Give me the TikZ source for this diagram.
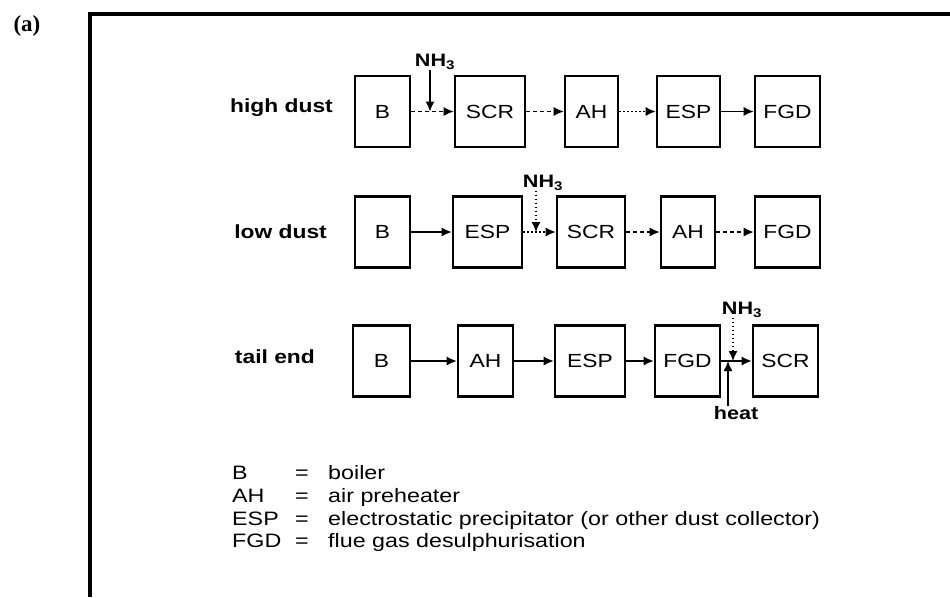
\documentclass[tikz,border=0pt]{standalone}
\usepackage{fontspec}
\setmainfont[FakeStretch=1.2]{Liberation Sans}
\newfontfamily\tagfont{Liberation Serif}
\usetikzlibrary{arrows.meta}
\begin{document}
\begin{tikzpicture}[x=1pt,y=-1pt,
  unit/.style={draw,line width=2.6pt,inner sep=0pt,minimum height=71pt,font=\fontsize{19}{22}\selectfont},
  rowlabel/.style={anchor=east,inner sep=0pt,font=\bfseries\fontsize{19}{22}\selectfont},
  gaslabel/.style={inner sep=0pt,font=\bfseries\fontsize{18}{22}\selectfont},
  legend/.style={anchor=base west,inner sep=0pt,font=\fontsize{19.4}{22}\selectfont},
  eqsign/.style={anchor=base,inner sep=0pt,font=\fontsize{19.4}{22}\selectfont},
  flow/.style={line width=1.4pt,-{Latex[length=10pt,width=9pt]}},
  dsh/.style={dash pattern=on 4pt off 3pt},
  dtt/.style={dash pattern=on 1.5pt off 2.5pt}]
\useasboundingbox (0,0) rectangle (950,597);
% frame
\draw[line width=3.2pt] (90,597) -- (90,14) -- (950,14);
\node[inner sep=0pt,font=\tagfont\bfseries\fontsize{23}{26}\selectfont] (tag) at (27,26) {(a)};
% row 1: high dust
\node[rowlabel] (l1) at (333,108) {high dust};
\node[unit,minimum width=55pt] (b1) at (382.5,111.5) {B};
\node[unit,minimum width=70pt] (scr1) at (490,111.5) {SCR};
\node[unit,minimum width=53pt] (ah1) at (591.5,111.5) {AH};
\node[unit,minimum width=63pt] (esp1) at (688.5,111.5) {ESP};
\node[unit,minimum width=65pt] (fgd1) at (787.5,111.5) {FGD};
\coordinate (j1) at (430,111.5);
\node[gaslabel] (nh1) at (435,62) {NH\textsubscript{3}};
\draw[flow,dsh] (b1.east) -- (scr1.west);
\draw[flow] (nh1.south -| j1) -- (j1);
\draw[flow,dsh] (scr1.east) -- (ah1.west);
\draw[flow,dtt] (ah1.east) -- (esp1.west);
\draw[flow] (esp1.east) -- (fgd1.west);
% row 2: low dust
\node[rowlabel] (l2) at (327,232) {low dust};
\node[unit,minimum width=55pt] (b2) at (382.5,232) {B};
\node[unit,minimum width=69pt] (esp2) at (487.5,232) {ESP};
\node[unit,minimum width=68pt] (scr2) at (591,232) {SCR};
\node[unit,minimum width=54pt] (ah2) at (688,232) {AH};
\node[unit,minimum width=65pt] (fgd2) at (787.5,232) {FGD};
\coordinate (j2) at (536,232);
\node[gaslabel] (nh2) at (543,183) {NH\textsubscript{3}};
\draw[flow] (b2.east) -- (esp2.west);
\draw[flow,dtt] (esp2.east) -- (scr2.west);
\draw[flow,dtt] (nh2.south -| j2) -- (j2);
\draw[flow,dsh] (scr2.east) -- (ah2.west);
\draw[flow,dsh] (ah2.east) -- (fgd2.west);
% row 3: tail end
\node[rowlabel] (l3) at (315,357) {tail end};
\node[unit,minimum width=57pt] (b3) at (381.5,361) {B};
\node[unit,minimum width=55pt] (ah3) at (485.5,361) {AH};
\node[unit,minimum width=70pt] (esp3) at (590,361) {ESP};
\node[unit,minimum width=65pt] (fgd3) at (687.5,361) {FGD};
\node[unit,minimum width=65pt] (scr3) at (785.5,361) {SCR};
\coordinate (j3) at (733,361);
\coordinate (h3) at (728,361);
\node[gaslabel] (nh3) at (742,310) {NH\textsubscript{3}};
\node[gaslabel] (heat) at (736,413) {heat};
\draw[flow] (b3.east) -- (ah3.west);
\draw[flow] (ah3.east) -- (esp3.west);
\draw[flow] (esp3.east) -- (fgd3.west);
\draw[flow] (fgd3.east) -- (scr3.west);
\draw[flow,dtt] (nh3.south -| j3) -- (j3);
\draw[flow] (heat.north -| h3) -- (h3);
% legend
\node[legend] (k1) at (232,479) {B};
\node[legend] (k2) at (232,502) {AH};
\node[legend] (k3) at (232,525) {ESP};
\node[legend] (k4) at (232,547) {FGD};
\node[eqsign] (e1) at (302,479) {=};
\node[eqsign] (e2) at (302,502) {=};
\node[eqsign] (e3) at (302,525) {=};
\node[eqsign] (e4) at (302,547) {=};
\node[legend] (d1) at (328,479) {boiler};
\node[legend] (d2) at (328,502) {air preheater};
\node[legend] (d3) at (328,525) {electrostatic precipitator (or other dust collector)};
\node[legend] (d4) at (328,547) {flue gas desulphurisation};
\end{tikzpicture}
\end{document}
